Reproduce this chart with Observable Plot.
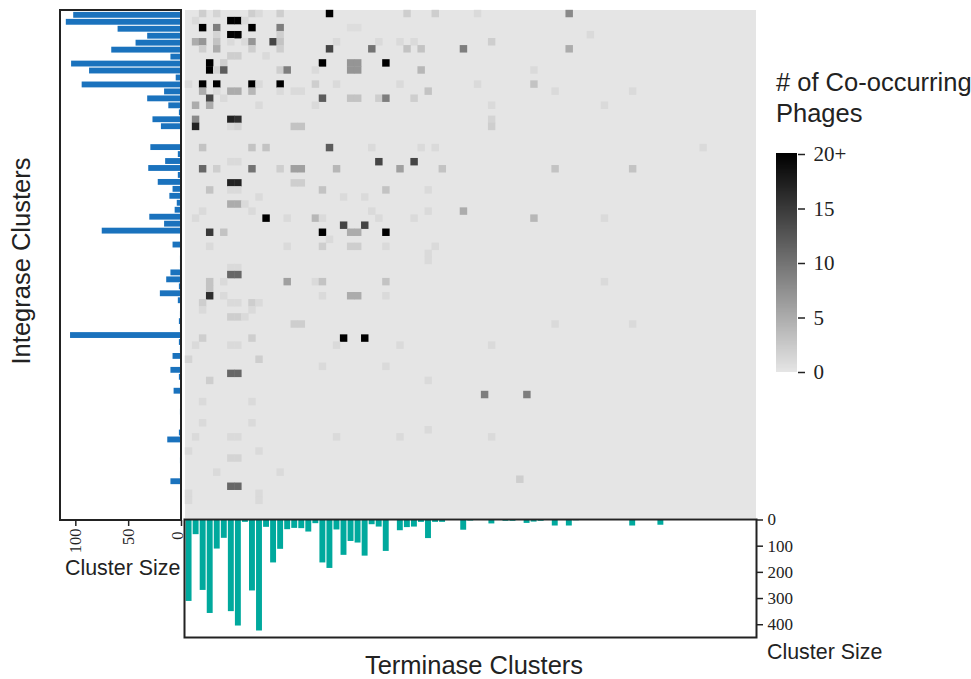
<!DOCTYPE html>
<html>
<head>
<meta charset="utf-8">
<script src="https://cdn.jsdelivr.net/npm/d3@7"></script>
<script src="https://cdn.jsdelivr.net/npm/@observablehq/plot@0.6"></script>
<style>
html,body{margin:0;padding:0;background:#fff;}
#chart{position:relative;width:971px;height:679px;overflow:hidden;}
#chart svg{position:absolute;overflow:visible;background:transparent;}
.lbl{position:absolute;font-family:"Liberation Sans",Arial,sans-serif;color:#222;white-space:nowrap;line-height:1;}
</style>
</head>
<body>
<div id="chart"></div>
<script>
const integraseSizes = [102,109,60,32,43,66,10,104,87,5,94,16,32,12,2,27,19,0.5,0.5,29,3,15,31,3,22,8,11,4,6,30,16,75,0,8,0.5,1,1,10,14,2,20,3,0.5,1,2,1,105,2,1,8,0,10,2,0,7,0,0,1,0,0,2,13,0,0,1,0,1,10,0,0,0,0];
const terminaseSizes = [311,56,269,357,111,70,350,405,9,271,424,28,164,112,37,32,33,46,14,164,185,38,135,82,88,138,18,27,120,0,41,29,27,9,71,9,9,0,0,39,4,2,2,15,0,5,5,0,13,8,5,0,23,0,23,3,0,0,0,1,0,0,0,23,0,0,0,20,0,0,0,0,0,0,0,0,0,0,0,0,0];
const cooccurrence = [
[0,2,2],[0,4,1.5],[0,9,2],[0,10,1],[0,13,2],[0,20,20],[0,31,2],[0,35,2],[0,41,1],[0,54,8],
[1,1,1],[1,6,20],[1,7,20],[1,8,1],
[2,2,20],[2,4,9],[2,9,20],[2,13,9],[2,23,0.7],[2,24,0.7],
[3,4,1.5],[3,6,20],[3,7,20],[3,13,2],[3,57,1],
[4,1,5],[4,2,7],[4,4,3],[4,6,1],[4,8,1],[4,9,7],[4,12,14],[4,13,3],[4,21,1],[4,27,1],[4,30,1],[4,32,1],[4,43,2],
[5,2,2],[5,4,5],[5,9,2],[5,13,2],[5,20,14],[5,26,10],[5,31,3],[5,33,3],[5,39,9],[5,54,5],
[6,6,2],[6,7,2],[6,11,1],
[7,3,20],[7,5,2],[7,19,20],[7,23,7],[7,24,7],[7,28,20],
[8,3,20],[8,4,1.5],[8,5,12],[8,13,2],[8,14,9],[8,18,1],[8,23,7],[8,24,7],[8,33,4],[8,49,1],
[10,0,1],[10,2,20],[10,4,20],[10,9,20],[10,10,1],[10,13,20],[10,18,2],[10,21,1],[10,30,1],[10,41,1],[10,49,3],
[11,2,5],[11,4,1],[11,6,5],[11,7,5],[11,9,4],[11,13,1],[11,15,1],[11,16,1],[11,34,3],[11,52,1],[11,63,1],
[12,3,14],[12,5,1],[12,19,12],[12,23,3],[12,24,3],[12,27,2],[12,28,9],[12,32,2],
[13,1,5],[13,3,5],[13,10,1],[13,18,1],[13,43,1],[13,59,1],
[15,1,8],[15,6,17],[15,7,16],[15,43,1.5],
[16,1,17],[16,6,1],[16,7,1.5],[16,15,3],[16,16,3],[16,43,2],
[19,2,3],[19,9,3],[19,11,3],[19,20,12],[19,26,1],[19,33,1],[19,35,1],[19,73,1],
[21,6,1],[21,7,1],[21,27,14],[21,32,14],
[22,2,11],[22,4,2],[22,9,10],[22,13,2],[22,15,6],[22,16,6],[22,21,4],[22,30,6],[22,36,3],[22,52,3],[22,63,3],
[24,6,17],[24,7,17],[24,15,2],[24,16,2],
[25,3,3],[25,6,1],[25,7,1],[25,19,3],[25,28,3],[25,34,1],
[26,10,1],[26,22,1],[26,25,1],
[27,6,5],[27,7,5],[27,8,1],
[28,2,1],[28,9,1],[28,26,1],[28,34,1],[28,39,5],
[29,1,1],[29,11,20],[29,14,1],[29,18,4],[29,19,1],[29,27,1],[29,32,1],[29,49,4],[29,59,1],
[30,22,14],[30,25,14],
[31,3,15],[31,5,3],[31,19,20],[31,23,5],[31,24,5],[31,28,20],
[32,20,1],
[33,3,1],[33,14,1],[33,19,2],[33,23,2],[33,24,2],[33,28,1],[33,35,1],
[34,34,1],[35,34,1],
[36,6,1],[36,7,1],
[37,6,11],[37,7,11],
[38,3,3],[38,5,1],[38,14,6],[38,18,1],[38,19,3],[38,28,3],[38,59,1],
[39,3,3],
[40,3,16],[40,5,1],[40,19,1],[40,23,5],[40,24,5],[40,28,1],
[41,2,2],[41,6,1],[41,7,1],[41,9,2],[41,10,1],
[42,2,1],[42,9,1],
[43,6,2],[43,7,2],[43,8,1],
[44,15,2],[44,16,2],[44,52,1],[44,63,1],
[46,2,2],[46,9,2],[46,22,20],[46,25,20],
[47,1,1],[47,6,1],[47,7,1],[47,21,1],[47,30,1],[47,43,1],
[49,0,1.5],[49,10,2],
[50,19,1],[50,28,1],
[51,6,11],[51,7,11],
[52,3,2],[52,34,1],
[54,42,9],[54,48,9],
[55,2,1],[55,9,1],
[58,2,1],[58,9,1],
[59,34,1],
[60,1,1],[60,6,1],[60,7,1],[60,21,1],[60,30,1],[60,43,1],
[62,0,1],[62,10,1],
[63,6,1.5],[63,7,1.5],
[65,4,1],[65,13,1],
[66,47,2],
[67,6,11],[67,7,11],
[68,0,1],[68,10,1],
[69,0,1],[69,10,1]
];
const legendTicks = [0,5,10,15,20];
const legendTickLabels = ["0","5","10","15","20+"];
const intTicks = [0,50,100];
const termTicks = [0,100,200,300,400];

const serif = '"Liberation Serif","Times New Roman",serif';
const ink = "#222";
const chart = document.getElementById("chart");
function place(svg,left,top){svg.style.left=left+"px";svg.style.top=top+"px";chart.appendChild(svg);}
function label(text,left,top,size,extra){
  const d=document.createElement("div");d.className="lbl";d.textContent=text;
  d.style.left=left+"px";d.style.top=top+"px";d.style.fontSize=size+"px";
  if(extra)Object.assign(d.style,extra);chart.appendChild(d);
}
const colorScale = {type:"linear",domain:[0,20],range:["#e5e5e5","#000000"],clamp:true};

// heatmap
const rowsDomain = d3.range(72), colsDomain = d3.range(81);
const heat = Plot.plot({
  width:571,height:508,margin:0,
  style:{background:"#e5e5e5"},
  x:{domain:colsDomain,padding:0,round:false,axis:null},
  y:{domain:rowsDomain,padding:0,round:false,axis:null},
  color:colorScale,
  marks:[Plot.cell(cooccurrence,{x:d=>d[1],y:d=>d[0],fill:d=>d[2],inset:-0.2})]
});
place(heat,184.5,10);

// integrase bars (left)
const intTable = integraseSizes.map((v,i)=>({i,v}));
const left = Plot.plot({
  width:123,height:541,marginLeft:0,marginRight:0,marginTop:0,marginBottom:31,
  style:{background:"transparent",fontFamily:serif,fontSize:"16.5px",color:ink},
  x:{domain:[114.5,0],range:[1,122],axis:null,label:null},
  y:{domain:d3.range(72),range:[0.8,503.1],padding:0.16,round:false,axis:null},
  marks:[
    Plot.barX(intTable,{x:"v",y:"i",fill:"#1a72bd"}),
    Plot.rect([0],{x1:()=>114.5,x2:()=>0,stroke:ink,strokeWidth:2,fill:"none"}),
    Plot.axisX({ticks:intTicks,anchor:"bottom",label:null,tickSize:6,tickRotate:-90,tickPadding:2,fontFamily:serif,fontSize:16.5,stroke:ink,strokeWidth:1.5,tickFormat:d=>d===0?"":String(d)}),
    Plot.text(intTicks.slice(0,1),{x:d=>d,text:d=>String(d),frameAnchor:"bottom",dy:11,dx:-4,rotate:-90,textAnchor:"end",lineAnchor:"middle",fontFamily:serif,fontSize:16.5,fill:ink})
  ]
});
place(left,59,10);

// terminase bars (bottom)
const termTable = terminaseSizes.map((v,i)=>({i,v}));
const bottom = Plot.plot({
  width:612,height:118,marginLeft:0,marginRight:40,marginTop:0,marginBottom:0,
  style:{background:"transparent",fontFamily:serif,fontSize:"17px",color:ink},
  x:{domain:colsDomain,range:[0.5,572],padding:0.16,round:false,axis:null},
  y:{domain:[0,445],range:[0.5,117],axis:null,label:null},
  marks:[
    Plot.barY(termTable,{x:"i",y:"v",fill:"#00a99d"}),
    Plot.frame({stroke:ink,strokeWidth:2}),
    Plot.axisY({ticks:termTicks,anchor:"right",label:null,tickSize:6,tickPadding:5,fontFamily:serif,fontSize:17,stroke:ink,strokeWidth:1.5,tickFormat:d=>String(d)})
  ]
});
place(bottom,184,519);

// legend
const ramp = d3.range(0,20,0.05);
const legend = Plot.plot({
  width:70,height:218,marginLeft:0,marginRight:49,marginTop:0,marginBottom:0,
  style:{background:"transparent",fontFamily:serif,fontSize:"21px",color:ink},
  x:{domain:[0,1],axis:null},
  y:{domain:[0,20],range:[218,0],axis:null,label:null},
  color:colorScale,
  marks:[
    Plot.rect(ramp,{x1:()=>0,x2:()=>1,y1:d=>d,y2:d=>d+0.1,fill:d=>d,shapeRendering:"crispEdges"}),
    Plot.axisY({ticks:legendTicks,anchor:"right",label:null,tickSize:7,tickPadding:9,fontFamily:serif,fontSize:21,stroke:ink,strokeWidth:1.5,tickFormat:d=>legendTickLabels[d/5]})
  ]
});
place(legend,776,154);

label("# of Co-occurring",776,70,25.5);
label("Phages",776,101,25.5);
label("Integrase Clusters",22,261,25.5,{transform:"translate(-50%,-50%) rotate(-90deg)"});
label("Terminase Clusters",474,653,25.5,{transform:"translateX(-50%)"});
label("Cluster Size",65,558,21.4);
label("Cluster Size",767,641.5,21.4);
</script>
</body>
</html>
